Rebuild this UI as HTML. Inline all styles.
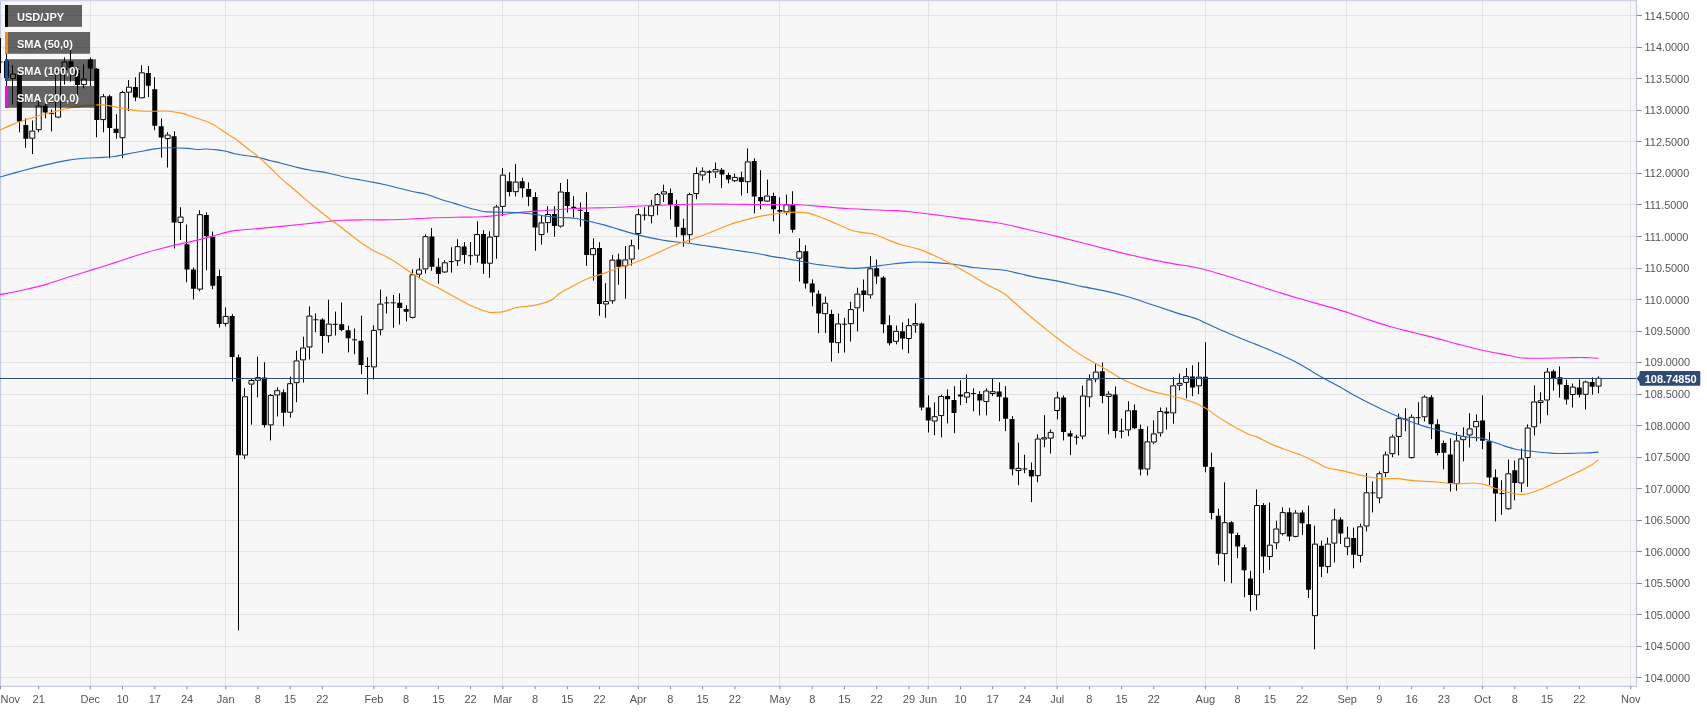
<!DOCTYPE html>
<html><head><meta charset="utf-8"><title>USD/JPY</title>
<style>html,body{margin:0;padding:0;background:#fff;overflow:hidden}body{width:1707px;height:712px;position:relative;font-family:"Liberation Sans",sans-serif}svg{position:absolute;left:0;top:0}text{font-family:"Liberation Sans",sans-serif}</style></head><body>
<svg style="will-change:transform" width="1707" height="712" viewBox="0 0 1707 712">
<rect x="0" y="0" width="1707" height="712" fill="#ffffff"/>
<rect x="0" y="0" width="1636.5" height="686.3" fill="#f7f7f7"/>
<path d="M0 15.5H1636.5M0 47.5H1636.5M0 78.5H1636.5M0 110.5H1636.5M0 141.5H1636.5M0 173.5H1636.5M0 204.5H1636.5M0 236.5H1636.5M0 268.5H1636.5M0 299.5H1636.5M0 331.5H1636.5M0 362.5H1636.5M0 394.5H1636.5M0 425.5H1636.5M0 457.5H1636.5M0 488.5H1636.5M0 520.5H1636.5M0 551.5H1636.5M0 583.5H1636.5M0 614.5H1636.5M0 646.5H1636.5M0 677.5H1636.5M90.5 0V686.3M225.5 0V686.3M373.5 0V686.3M502.5 0V686.3M638.5 0V686.3M779.5 0V686.3M928.5 0V686.3M1056.5 0V686.3M1205.5 0V686.3M1346.5 0V686.3M1482.5 0V686.3M1630.5 0V686.3" stroke="#e3e3e5" stroke-width="1" fill="none"/>
<path d="M0.5 0V686.3" stroke="#c3cbe2" stroke-width="1.2" fill="none"/>
<clipPath id="c"><rect x="0" y="0" width="1636.5" height="686.3"/></clipPath>
<g clip-path="url(#c)">
<path d="M0.50 38.0V73.0M-2.44 62.0H2.56M6.50 50.0V88.0M12.50 65.2V73.6M12.50 79.0V104.7M19.50 72.0V132.3M25.50 118.3V147.8M32.50 120.5V130.6M32.50 138.7V154.1M38.50 101.2V105.5M38.50 130.2V132.3M45.50 103.7V118.3M51.50 109.5V131.5M49.13 113.6H54.13M58.50 70.0V71.0M58.50 117.6V118.3M64.50 57.3V61.5M64.50 70.0V84.5M70.50 49.8V81.8M77.50 66.5V96.2M83.50 64.5V78.6M83.50 85.1V88.4M90.50 57.6V86.0M96.50 68.0V137.3M103.50 94.1V96.2M103.50 120.1V132.3M109.50 94.8V158.3M116.50 114.2V138.7M122.50 90.6V92.0M122.50 138.2V158.3M128.50 80.0V86.7M128.50 92.7V111.1M135.50 77.3V101.2M141.50 65.3V72.3M141.50 98.3V98.5M148.50 66.0V97.0M154.50 77.3V130.2M161.50 118.4V157.6M167.50 132.2V134.5M167.50 139.1V167.5M174.50 131.3V248.5M180.50 207.2V216.5M180.50 222.9V240.0M186.50 224.5V282.2M193.50 267.5V299.4M199.50 210.2V214.2M199.50 289.6V291.3M206.50 212.3V270.3M212.50 231.6V289.2M219.50 269.6V327.5M225.50 307.4V315.9M225.50 323.9V326.4M232.50 314.2V381.4M238.50 354.5V630.4M244.50 388.1V396.3M244.50 455.6V459.1M251.50 379.0V380.0M251.50 384.6V424.7M257.50 356.6V377.2M257.50 380.8V397.3M264.50 362.3V427.5M270.50 394.0V394.9M270.50 425.4V440.4M277.50 387.4V390.2M277.50 395.5V416.5M283.50 389.5V426.4M290.50 376.6V383.2M290.50 412.7V417.6M296.50 350.7V360.4M296.50 383.2V402.2M303.50 336.7V347.5M303.50 360.4V382.5M309.50 306.4V315.6M309.50 347.5V359.4M315.50 313.5V332.3M313.40 319.8H318.40M322.50 318.2V353.4M328.50 299.7V323.6M328.50 336.2V342.6M335.50 311.6V335.5M332.74 324.3H337.74M341.50 302.5V331.3M348.50 325.7V352.4M354.50 328.5V354.2M352.07 339.8H357.07M361.50 315.6V374.1M367.50 357.3V394.4M364.97 366.4H369.97M373.50 325.4V329.9M373.50 367.4V379.4M380.50 289.6V303.6M380.50 330.2V335.3M386.50 296.6V313.5M384.30 302.9H389.30M393.50 295.0V327.7M390.75 302.8H395.75M399.50 293.3V324.5M406.50 305.2V321.4M412.50 269.4V274.3M412.50 317.9V318.5M419.50 258.1V269.4M419.50 274.7V277.5M425.50 234.4V236.2M425.50 269.4V273.6M431.50 228.0V270.8M438.50 258.1V283.7M444.50 260.2V262.3M444.50 272.5V273.0M451.50 247.2V272.6M448.76 261.6H453.76M457.50 239.2V246.2M457.50 261.2V265.9M464.50 242.2V263.7M470.50 242.0V264.9M468.10 255.7H473.10M477.50 221.4V234.1M477.50 255.7V262.6M483.50 230.1V273.9M489.50 231.3V236.6M489.50 263.7V277.8M496.50 204.8V206.5M496.50 236.9V258.8M502.50 168.0V174.6M502.50 206.9V216.1M509.50 172.2V196.4M515.50 164.1V181.6M515.50 192.2V196.4M522.50 177.8V197.5M528.50 182.3V206.2M535.50 192.2V250.8M541.50 216.1V222.4M541.50 235.1V244.6M547.50 206.2V214.0M547.50 223.1V232.7M554.50 206.2V236.6M560.50 183.0V191.5M560.50 226.6V227.6M567.50 179.2V212.6M573.50 196.1V217.5M580.50 202.3V226.6M586.50 192.2V265.9M593.50 238.3V248.1M593.50 255.2V280.7M599.50 242.2V315.7M605.50 283.2V301.1M605.50 304.5V317.8M612.50 255.1V259.6M612.50 301.3V303.7M618.50 253.7V284.7M625.50 246.0V259.4M625.50 266.4V298.7M631.50 239.7V245.3M631.50 259.6V265.7M638.50 208.9V214.2M638.50 234.0V249.5M644.50 207.2V220.4M642.13 215.2H647.13M651.50 199.8V205.4M651.50 216.2V223.4M657.50 193.0V194.1M657.50 205.0V215.2M663.50 184.7V191.3M663.50 194.5V202.1M670.50 188.5V219.4M676.50 199.8V237.3M683.50 218.7V246.7M689.50 192.7V194.1M689.50 235.2V242.5M696.50 167.4V173.0M696.50 194.1V199.3M702.50 167.4V170.8M702.50 175.5V180.5M709.50 170.2V183.3M715.50 162.5V169.1M715.50 172.4V178.0M721.50 168.1V188.1M728.50 172.6V183.3M734.50 173.7V176.9M734.50 181.2V182.2M741.50 171.6V195.5M747.50 148.4V161.4M747.50 182.2V193.1M754.50 158.3V213.4M760.50 170.2V209.2M767.50 179.6V195.5M767.50 201.6V202.0M773.50 192.7V221.3M779.50 197.4V233.7M786.50 194.6V204.4M786.50 212.4V215.2M792.50 191.3V232.6M799.50 238.3V251.2M799.50 258.7V281.6M805.50 245.3V288.6M812.50 279.4V306.3M818.50 290.4V333.2M825.50 296.6V302.7M825.50 314.2V333.0M831.50 309.8V361.6M838.50 313.6V323.4M838.50 343.2V353.2M844.50 317.8V352.5M841.95 324.2H846.95M850.50 301.7V309.1M850.50 324.2V341.5M857.50 287.7V293.6M857.50 308.3V331.3M863.50 279.5V311.6M870.50 256.3V268.3M870.50 295.3V298.5M876.50 259.6V284.0M883.50 276.0V333.2M889.50 315.4V345.4M896.50 325.6V330.8M896.50 341.8V344.3M902.50 322.4V349.4M908.50 318.6V325.2M908.50 339.0V353.2M915.50 303.4V323.0M915.50 325.6V332.7M921.50 322.5V410.4M928.50 395.4V432.5M934.50 402.4V416.2M934.50 421.5V435.3M941.50 394.7V396.1M941.50 416.1V437.4M947.50 389.3V423.4M954.50 386.2V433.2M960.50 380.3V405.2M966.50 374.3V392.2M966.50 397.6V403.1M973.50 388.3V411.3M970.86 393.6H975.86M979.50 391.2V415.4M986.50 388.3V390.5M986.50 402.0V415.4M992.50 378.9V391.2M992.50 394.0V396.1M999.50 382.3V421.3M1005.50 386.2V431.1M1012.50 416.1V475.4M1018.50 442.6V467.9M1018.50 471.1V485.2M1024.50 454.7V473.3M1022.43 469.0H1027.43M1031.50 462.5V502.1M1037.50 434.3V438.5M1037.50 476.1V482.2M1044.50 415.2V437.3M1044.50 439.5V447.3M1050.50 429.5V431.9M1050.50 438.6V453.5M1057.50 391.7V397.4M1057.50 411.0V419.4M1063.50 395.5V440.4M1070.50 430.6V455.1M1076.50 434.8V444.6M1073.99 437.2H1078.99M1082.50 385.7V395.5M1082.50 436.6V439.4M1089.50 374.4V379.4M1089.50 397.4V407.2M1095.50 364.2V371.6M1095.50 379.4V382.2M1102.50 362.5V403.3M1108.50 391.3V393.7M1108.50 396.9V434.3M1115.50 386.4V438.2M1121.50 418.5V438.3M1119.11 431.2H1124.11M1128.50 401.2V410.3M1128.50 430.4V436.2M1134.50 404.4V429.2M1140.50 424.5V475.5M1147.50 426.4V441.4M1147.50 469.5V475.5M1153.50 420.4V433.4M1153.50 442.5V444.2M1160.50 407.5V411.0M1160.50 433.4V436.5M1166.50 407.5V429.6M1173.50 377.3V385.3M1173.50 413.4V423.7M1179.50 373.5V382.9M1179.50 385.7V390.3M1186.50 368.1V376.2M1186.50 382.9V398.3M1192.50 365.3V396.2M1198.50 362.2V376.6M1198.50 386.4V394.1M1205.50 342.1V472.3M1211.50 452.6V519.4M1218.50 508.6V565.2M1224.50 482.3V522.2M1224.50 554.2V581.4M1231.50 521.2V583.2M1237.50 532.7V558.0M1244.50 544.7V597.3M1250.50 570.8V611.3M1256.50 489.4V505.0M1256.50 595.4V609.9M1263.50 503.1V573.0M1269.50 502.5V544.7M1269.50 557.0V570.0M1276.50 520.8V528.5M1276.50 543.3V549.2M1282.50 507.4V512.1M1282.50 534.1V535.5M1289.50 507.8V541.2M1295.50 510.2V512.6M1295.50 536.9V537.3M1302.50 510.2V535.1M1308.50 505.6V598.0M1314.50 525.7V543.6M1314.50 616.2V649.3M1321.50 540.7V577.1M1327.50 537.6V543.6M1327.50 567.1V573.3M1334.50 508.8V519.4M1334.50 543.6V562.4M1340.50 517.3V544.0M1347.50 526.7V537.6M1347.50 547.2V555.2M1353.50 527.6V568.3M1360.50 523.7V526.3M1360.50 555.9V562.4M1366.50 473.0V492.3M1366.50 526.5V531.4M1372.50 481.4V512.4M1370.49 492.9H1375.49M1379.50 471.4V473.2M1379.50 498.4V503.3M1385.50 451.5V454.4M1385.50 473.1V477.2M1392.50 434.6V436.5M1392.50 454.2V457.2M1398.50 413.5V418.2M1398.50 436.9V455.4M1405.50 408.4V431.3M1402.72 419.1H1407.72M1411.50 414.4V416.8M1411.50 458.1V458.6M1418.50 402.2V424.3M1415.61 417.7H1420.61M1424.50 395.2V396.6M1424.50 417.3V421.5M1431.50 395.2V439.1M1437.50 419.4V455.3M1443.50 440.5V469.4M1450.50 438.3V491.5M1456.50 432.0V440.5M1456.50 484.0V490.8M1463.50 427.4V436.0M1463.50 440.2V461.4M1469.50 413.3V428.4M1469.50 435.5V447.5M1476.50 414.4V421.0M1476.50 427.3V441.2M1482.50 395.3V449.2M1489.50 432.2V485.1M1495.50 469.4V521.4M1501.50 480.2V514.7M1499.41 493.6H1504.41M1508.50 459.5V473.3M1508.50 509.3V509.8M1514.50 460.5V500.3M1521.50 448.6V458.4M1521.50 483.5V492.2M1527.50 424.3V427.5M1527.50 458.1V486.8M1534.50 385.4V401.5M1534.50 427.3V435.5M1540.50 392.3V400.3M1540.50 403.0V423.5M1547.50 368.1V371.6M1547.50 400.5V415.3M1553.50 369.5V390.6M1559.50 366.4V397.5M1566.50 379.6V404.5M1572.50 383.6V386.6M1572.50 395.0V407.6M1579.50 379.4V397.6M1585.50 380.5V381.5M1585.50 394.8V409.6M1592.50 377.3V394.6M1598.50 376.3V377.8M1598.50 386.6V393.4" stroke="#000" stroke-width="1" fill="none"/>
<path d="M4.01 61.0H9.01V78.0H4.01ZM16.90 74.4H21.90V121.6H16.90ZM23.34 125.0H28.34V138.7H23.34ZM42.68 105.8H47.68V112.4H42.68ZM68.46 61.3H73.46V67.5H68.46ZM74.91 70.2H79.91V85.0H74.91ZM87.80 59.4H92.80V68.4H87.80ZM94.25 68.7H99.25V120.1H94.25ZM107.14 96.2H112.14V128.0H107.14ZM113.58 128.7H118.58V133.0H113.58ZM132.92 87.1H137.92V97.6H132.92ZM145.81 73.0H150.81V85.7H145.81ZM152.26 89.2H157.26V125.8H152.26ZM158.70 126.2H163.70V137.6H158.70ZM171.59 136.3H176.59V222.5H171.59ZM184.49 244.3H189.49V269.6H184.49ZM190.93 269.6H195.93V288.8H190.93ZM203.82 215.1H208.82V236.3H203.82ZM210.27 236.8H215.27V285.8H210.27ZM216.71 276.0H221.71V323.9H216.71ZM229.61 316.1H234.61V357.0H229.61ZM236.05 357.3H241.05V455.3H236.05ZM261.83 377.6H266.83V425.0H261.83ZM281.17 392.3H286.17V412.7H281.17ZM319.85 319.4H324.85V336.0H319.85ZM339.18 324.3H344.18V329.9H339.18ZM345.63 330.3H350.63V338.3H345.63ZM358.52 340.7H363.52V365.0H358.52ZM397.19 302.8H402.19V308.0H397.19ZM403.64 309.0H408.64V311.8H403.64ZM429.42 236.4H434.42V266.8H429.42ZM435.87 266.8H440.87V273.9H435.87ZM461.65 246.6H466.65V255.0H461.65ZM480.99 234.1H485.99V263.7H480.99ZM506.77 181.2H511.77V191.9H506.77ZM519.66 181.2H524.66V188.2H519.66ZM526.11 189.1H531.11V196.7H526.11ZM532.55 197.1H537.55V227.6H532.55ZM551.89 214.0H556.89V225.9H551.89ZM564.78 191.9H569.78V206.0H564.78ZM571.23 206.8H576.23V208.6H571.23ZM577.67 209.8H582.67V210.8H577.67ZM584.12 211.9H589.12V255.0H584.12ZM597.01 248.1H602.01V304.1H597.01ZM616.35 259.6H621.35V266.7H616.35ZM667.91 193.1H672.91V205.0H667.91ZM674.36 205.8H679.36V226.8H674.36ZM680.80 227.8H685.80V235.2H680.80ZM706.59 171.3H711.59V172.7H706.59ZM719.48 169.8H724.48V174.4H719.48ZM725.92 175.1H730.92V179.6H725.92ZM738.82 177.3H743.82V181.9H738.82ZM751.71 161.1H756.71V196.5H751.71ZM758.15 196.9H763.15V201.2H758.15ZM771.04 196.0H776.04V209.2H771.04ZM777.49 210.0H782.49V211.7H777.49ZM790.38 204.7H795.38V229.8H790.38ZM803.27 251.2H808.27V283.6H803.27ZM809.72 283.5H814.72V292.5H809.72ZM816.16 293.8H821.16V313.4H816.16ZM829.06 314.0H834.06V342.7H829.06ZM861.28 290.5H866.28V295.0H861.28ZM874.18 268.3H879.18V276.4H874.18ZM880.62 277.4H885.62V324.2H880.62ZM887.07 325.2H892.07V343.2H887.07ZM899.96 331.3H904.96V338.4H899.96ZM919.30 323.4H924.30V407.6H919.30ZM925.74 407.6H930.74V420.6H925.74ZM945.08 396.1H950.08V399.2H945.08ZM951.52 400.0H956.52V413.0H951.52ZM957.97 394.4H962.97V396.4H957.97ZM977.31 394.0H982.31V400.6H977.31ZM996.64 391.6H1001.64V396.8H996.64ZM1003.09 397.5H1008.09V418.8H1003.09ZM1009.54 419.0H1014.54V469.3H1009.54ZM1028.87 470.0H1033.87V476.4H1028.87ZM1061.10 397.6H1066.10V432.0H1061.10ZM1067.55 433.2H1072.55V436.6H1067.55ZM1099.77 371.2H1104.77V396.0H1099.77ZM1112.67 394.6H1117.67V431.0H1112.67ZM1132.00 410.3H1137.00V428.2H1132.00ZM1138.45 429.0H1143.45V469.5H1138.45ZM1164.23 411.4H1169.23V413.4H1164.23ZM1190.01 376.6H1195.01V387.5H1190.01ZM1202.91 376.8H1207.91V466.7H1202.91ZM1209.35 467.1H1214.35V512.9H1209.35ZM1215.80 515.8H1220.80V553.8H1215.80ZM1228.69 522.2H1233.69V533.4H1228.69ZM1235.13 535.1H1240.13V546.4H1235.13ZM1241.58 547.2H1246.58V570.2H1241.58ZM1248.03 578.6H1253.03V595.1H1248.03ZM1260.92 505.0H1265.92V556.6H1260.92ZM1286.70 512.3H1291.70V536.5H1286.70ZM1299.59 512.6H1304.59V523.3H1299.59ZM1306.04 524.3H1311.04V589.8H1306.04ZM1318.93 545.8H1323.93V566.8H1318.93ZM1338.27 519.4H1343.27V533.4H1338.27ZM1351.16 537.9H1356.16V554.8H1351.16ZM1428.51 397.2H1433.51V424.3H1428.51ZM1434.95 424.3H1439.95V453.0H1434.95ZM1441.40 443.0H1446.40V452.7H1441.40ZM1447.84 454.5H1452.84V483.5H1447.84ZM1480.07 420.6H1485.07V440.7H1480.07ZM1486.52 441.2H1491.52V477.4H1486.52ZM1492.96 477.2H1497.96V493.6H1492.96ZM1512.30 470.2H1517.30V483.0H1512.30ZM1550.97 371.2H1555.97V378.2H1550.97ZM1557.42 377.3H1562.42V384.5H1557.42ZM1563.87 385.0H1568.87V399.6H1563.87ZM1576.76 387.5H1581.76V394.8H1576.76ZM1589.65 381.9H1594.65V386.7H1589.65Z" fill="#000" stroke="none"/>
<path d="M10.45 74.1H15.45V78.5H10.45ZM29.79 131.1H34.79V138.2H29.79ZM36.23 106.0H41.23V129.7H36.23ZM55.57 71.5H60.57V117.1H55.57ZM62.02 62.0H67.02V69.5H62.02ZM81.35 79.1H86.35V84.6H81.35ZM100.69 96.7H105.69V119.6H100.69ZM120.03 92.5H125.03V137.7H120.03ZM126.47 87.2H131.47V92.2H126.47ZM139.37 72.8H144.37V97.8H139.37ZM165.15 135.0H170.15V138.6H165.15ZM178.04 217.0H183.04V222.4H178.04ZM197.38 214.7H202.38V289.1H197.38ZM223.16 316.4H228.16V323.4H223.16ZM242.50 396.8H247.50V455.1H242.50ZM248.94 380.5H253.94V384.1H248.94ZM255.39 377.7H260.39V380.3H255.39ZM268.28 395.4H273.28V424.9H268.28ZM274.73 390.7H279.73V395.0H274.73ZM287.62 383.7H292.62V412.2H287.62ZM294.06 360.9H299.06V382.7H294.06ZM300.51 348.0H305.51V359.9H300.51ZM306.95 316.1H311.95V347.0H306.95ZM326.29 324.1H331.29V335.7H326.29ZM371.41 330.4H376.41V366.9H371.41ZM377.86 304.1H382.86V329.7H377.86ZM410.09 274.8H415.09V317.4H410.09ZM416.53 269.9H421.53V274.2H416.53ZM422.98 236.7H427.98V268.9H422.98ZM442.31 262.8H447.31V272.0H442.31ZM455.20 246.7H460.20V260.7H455.20ZM474.54 234.6H479.54V255.2H474.54ZM487.43 237.1H492.43V263.2H487.43ZM493.88 207.0H498.88V236.4H493.88ZM500.32 175.1H505.32V206.4H500.32ZM513.22 182.1H518.22V191.7H513.22ZM539.00 222.9H544.00V234.6H539.00ZM545.44 214.5H550.44V222.6H545.44ZM558.34 192.0H563.34V226.1H558.34ZM590.56 248.6H595.56V254.7H590.56ZM603.46 301.6H608.46V304.0H603.46ZM609.90 260.1H614.90V300.8H609.90ZM622.79 259.9H627.79V265.9H622.79ZM629.24 245.8H634.24V259.1H629.24ZM635.68 214.7H640.68V233.5H635.68ZM648.58 205.9H653.58V215.7H648.58ZM655.02 194.6H660.02V204.5H655.02ZM661.47 191.8H666.47V194.0H661.47ZM687.25 194.6H692.25V234.7H687.25ZM693.70 173.5H698.70V193.6H693.70ZM700.14 171.3H705.14V175.0H700.14ZM713.03 169.6H718.03V171.9H713.03ZM732.37 177.4H737.37V180.7H732.37ZM745.26 161.9H750.26V181.7H745.26ZM764.60 196.0H769.60V201.1H764.60ZM783.94 204.9H788.94V211.9H783.94ZM796.83 251.7H801.83V258.2H796.83ZM822.61 303.2H827.61V313.7H822.61ZM835.50 323.9H840.50V342.7H835.50ZM848.39 309.6H853.39V323.7H848.39ZM854.84 294.1H859.84V307.8H854.84ZM867.73 268.8H872.73V294.8H867.73ZM893.51 331.3H898.51V341.3H893.51ZM906.40 325.7H911.40V338.5H906.40ZM912.85 323.5H917.85V325.1H912.85ZM932.19 416.7H937.19V421.0H932.19ZM938.63 396.6H943.63V415.6H938.63ZM964.42 392.7H969.42V397.1H964.42ZM983.75 391.0H988.75V401.5H983.75ZM990.20 391.7H995.20V393.5H990.20ZM1015.98 468.4H1020.98V470.6H1015.98ZM1035.32 439.0H1040.32V475.6H1035.32ZM1041.76 437.8H1046.76V439.0H1041.76ZM1048.21 432.4H1053.21V438.1H1048.21ZM1054.65 397.9H1059.65V410.5H1054.65ZM1080.44 396.0H1085.44V436.1H1080.44ZM1086.88 379.9H1091.88V396.9H1086.88ZM1093.33 372.1H1098.33V378.9H1093.33ZM1106.22 394.2H1111.22V396.4H1106.22ZM1125.56 410.8H1130.56V429.9H1125.56ZM1144.89 441.9H1149.89V469.0H1144.89ZM1151.34 433.9H1156.34V442.0H1151.34ZM1157.79 411.5H1162.79V432.9H1157.79ZM1170.68 385.8H1175.68V412.9H1170.68ZM1177.12 383.4H1182.12V385.2H1177.12ZM1183.57 376.7H1188.57V382.4H1183.57ZM1196.46 377.1H1201.46V385.9H1196.46ZM1222.24 522.7H1227.24V553.7H1222.24ZM1254.47 505.5H1259.47V594.9H1254.47ZM1267.36 545.2H1272.36V556.5H1267.36ZM1273.81 529.0H1278.81V542.8H1273.81ZM1280.25 512.6H1285.25V533.6H1280.25ZM1293.15 513.1H1298.15V536.4H1293.15ZM1312.48 544.1H1317.48V615.7H1312.48ZM1325.37 544.1H1330.37V566.6H1325.37ZM1331.82 519.9H1336.82V543.1H1331.82ZM1344.71 538.1H1349.71V546.7H1344.71ZM1357.60 526.8H1362.60V555.4H1357.60ZM1364.05 492.8H1369.05V526.0H1364.05ZM1376.94 473.7H1381.94V497.9H1376.94ZM1383.39 454.9H1388.39V472.6H1383.39ZM1389.83 437.0H1394.83V453.7H1389.83ZM1396.28 418.7H1401.28V436.4H1396.28ZM1409.17 417.3H1414.17V457.6H1409.17ZM1422.06 397.1H1427.06V416.8H1422.06ZM1454.29 441.0H1459.29V483.5H1454.29ZM1460.73 436.5H1465.73V439.7H1460.73ZM1467.18 428.9H1472.18V435.0H1467.18ZM1473.63 421.5H1478.63V426.8H1473.63ZM1505.85 473.8H1510.85V508.8H1505.85ZM1518.75 458.9H1523.75V483.0H1518.75ZM1525.19 428.0H1530.19V457.6H1525.19ZM1531.64 402.0H1536.64V426.8H1531.64ZM1538.08 400.8H1543.08V402.5H1538.08ZM1544.53 372.1H1549.53V400.0H1544.53ZM1570.31 387.1H1575.31V394.5H1570.31ZM1583.20 382.0H1588.20V394.3H1583.20ZM1596.09 378.3H1601.09V386.1H1596.09Z" fill="#fff" stroke="#000" stroke-width="1"/>
<path d="M0.0 294.7 C3.9 293.9 15.6 291.8 23.4 290.0 C31.2 288.2 39.1 286.4 46.9 284.1 C54.7 281.9 62.5 278.9 70.3 276.5 C78.1 274.1 85.9 271.8 93.7 269.4 C101.5 267.0 109.4 264.4 117.2 261.9 C125.0 259.4 132.8 256.6 140.6 254.2 C148.4 251.8 156.2 249.7 164.0 247.7 C171.8 245.7 179.7 244.2 187.5 242.4 C195.3 240.6 203.9 238.4 211.0 236.6 C218.1 234.8 224.7 232.5 230.0 231.4 C235.3 230.3 238.4 230.3 243.0 229.8 C247.6 229.3 251.4 229.2 257.8 228.6 C264.2 228.0 273.4 227.2 281.2 226.4 C289.0 225.6 296.8 224.8 304.6 224.0 C312.4 223.2 322.1 222.1 328.0 221.5 C333.9 220.9 334.2 220.6 340.0 220.3 C345.8 220.0 354.7 219.9 363.0 219.8 C371.3 219.7 381.8 219.9 390.0 219.8 C398.2 219.7 406.0 219.3 412.0 219.0 C418.0 218.7 419.1 218.5 426.2 218.2 C433.3 217.9 445.0 217.4 454.4 217.2 C463.8 217.0 475.5 217.1 482.5 216.8 C489.5 216.5 490.6 216.1 496.5 215.4 C502.4 214.7 509.4 213.4 517.6 212.6 C525.8 211.8 536.4 211.2 545.8 210.5 C555.2 209.8 566.5 208.9 573.9 208.5 C581.3 208.1 582.6 208.2 590.0 208.0 C597.4 207.8 608.7 207.7 618.1 207.3 C627.5 206.9 636.8 206.1 646.2 205.7 C655.6 205.3 665.0 205.0 674.4 204.7 C683.8 204.4 693.1 204.1 702.5 204.0 C711.9 203.9 721.2 204.1 730.6 204.2 C740.0 204.3 749.3 204.5 758.7 204.6 C768.1 204.7 779.8 204.7 786.8 204.7 C793.8 204.7 794.8 204.5 800.9 204.8 C807.0 205.1 815.7 206.0 823.4 206.6 C831.1 207.2 839.1 208.0 846.9 208.5 C854.7 209.0 862.5 209.3 870.3 209.7 C878.1 210.0 886.7 210.2 893.7 210.6 C900.7 211.0 904.7 211.2 912.5 212.0 C920.3 212.8 932.0 214.4 940.6 215.5 C949.2 216.6 956.2 217.6 964.0 218.6 C971.8 219.6 980.9 220.7 987.5 221.6 C994.1 222.5 996.1 222.4 1003.9 224.0 C1011.7 225.6 1025.3 228.9 1034.3 231.0 C1043.3 233.1 1050.0 234.7 1057.8 236.6 C1065.6 238.5 1073.4 240.5 1081.2 242.5 C1089.0 244.5 1096.8 246.6 1104.6 248.6 C1112.4 250.6 1120.2 252.6 1128.0 254.4 C1135.8 256.2 1143.7 258.0 1151.5 259.6 C1159.3 261.2 1168.6 263.0 1175.0 264.1 C1181.4 265.2 1185.3 265.5 1190.0 266.4 C1194.7 267.2 1197.2 267.6 1203.4 269.2 C1209.6 270.8 1219.1 273.6 1226.9 276.0 C1234.7 278.4 1242.5 280.8 1250.3 283.3 C1258.1 285.8 1265.9 288.4 1273.7 290.8 C1281.5 293.2 1289.4 295.7 1297.2 298.0 C1305.0 300.3 1312.8 302.4 1320.6 304.6 C1328.4 306.8 1336.2 308.9 1344.0 311.4 C1351.8 313.9 1359.7 316.8 1367.5 319.4 C1375.3 322.0 1383.2 324.6 1391.0 326.8 C1398.8 329.0 1406.5 330.7 1414.3 332.7 C1422.1 334.7 1430.0 336.6 1437.8 338.6 C1445.6 340.7 1453.4 343.0 1461.2 345.0 C1469.0 347.0 1476.8 349.0 1484.6 350.7 C1492.4 352.4 1502.1 354.0 1508.0 355.2 C1513.9 356.4 1516.1 357.2 1519.8 357.7 C1523.5 358.2 1526.1 358.1 1530.0 358.2 C1533.9 358.3 1537.1 358.3 1543.2 358.2 C1549.3 358.1 1560.5 357.8 1566.6 357.7 C1572.7 357.6 1576.1 357.5 1580.0 357.5 C1583.9 357.5 1586.9 357.7 1590.0 357.8 C1593.1 357.9 1597.1 358.2 1598.5 358.3" stroke="#ff22ee" stroke-width="1.15" fill="none" stroke-linejoin="round"/>
<path d="M0.0 177.0 C3.9 175.9 15.6 172.6 23.4 170.5 C31.2 168.4 39.9 166.2 46.9 164.6 C53.9 162.9 59.3 161.6 65.6 160.6 C71.8 159.6 78.9 158.8 84.4 158.3 C89.9 157.8 93.7 157.8 98.4 157.6 C103.1 157.3 107.8 157.4 112.5 156.8 C117.2 156.2 121.8 155.0 126.5 154.1 C131.2 153.2 135.9 152.4 140.6 151.5 C145.3 150.6 150.0 149.5 154.7 148.9 C159.4 148.3 163.2 147.9 168.7 147.8 C174.2 147.7 182.8 148.1 187.5 148.4 C192.2 148.7 193.9 149.4 197.0 149.5 C200.1 149.6 203.0 149.0 206.0 149.0 C209.0 149.0 211.8 149.3 215.0 149.6 C218.2 149.9 221.8 150.3 225.0 151.0 C228.2 151.7 231.3 153.0 234.4 153.7 C237.5 154.4 239.8 154.7 243.7 155.3 C247.6 155.9 253.4 156.4 257.8 157.3 C262.2 158.2 266.1 159.5 270.0 160.5 C273.9 161.5 276.7 162.0 281.2 163.2 C285.7 164.3 291.9 166.2 297.0 167.4 C302.1 168.6 306.8 169.6 312.0 170.5 C317.2 171.4 322.2 171.8 328.0 173.0 C333.8 174.2 341.4 176.3 346.9 177.5 C352.4 178.7 356.3 179.2 361.0 180.0 C365.7 180.8 371.2 181.8 375.0 182.6 C378.8 183.3 380.1 183.6 384.0 184.5 C387.9 185.4 393.4 186.8 398.1 188.0 C402.8 189.2 407.5 190.4 412.2 191.5 C416.9 192.6 421.5 193.0 426.2 194.3 C430.9 195.6 435.6 197.7 440.3 199.2 C445.0 200.7 449.7 202.0 454.4 203.4 C459.1 204.8 463.7 206.4 468.4 207.7 C473.1 209.0 479.0 210.5 482.5 211.2 C486.0 211.9 486.0 211.7 489.5 211.9 C493.0 212.1 498.9 212.1 503.6 212.2 C508.3 212.3 512.9 212.3 517.6 212.6 C522.3 212.9 527.0 213.4 531.7 214.0 C536.4 214.6 541.1 215.5 545.8 216.1 C550.5 216.7 555.1 217.2 559.8 217.5 C564.5 217.8 569.2 217.6 573.9 218.2 C578.6 218.8 583.0 219.9 588.0 221.0 C593.0 222.1 599.0 223.6 604.0 224.9 C609.0 226.2 613.4 227.7 618.1 229.1 C622.8 230.5 627.5 232.1 632.2 233.4 C636.9 234.7 641.5 235.9 646.2 236.9 C650.9 237.9 655.6 238.9 660.3 239.7 C665.0 240.5 669.7 241.2 674.4 241.8 C679.1 242.4 683.7 242.6 688.4 243.2 C693.1 243.8 697.8 244.6 702.5 245.3 C707.2 246.0 711.8 246.7 716.5 247.4 C721.2 248.1 725.9 248.8 730.6 249.5 C735.3 250.2 740.0 250.9 744.7 251.6 C749.4 252.3 754.0 252.9 758.7 253.7 C763.4 254.5 768.1 255.8 772.8 256.6 C777.5 257.4 782.1 257.9 786.8 258.7 C791.5 259.5 796.4 260.3 800.9 261.2 C805.4 262.1 810.1 263.3 814.0 264.0 C817.9 264.7 820.1 264.8 824.0 265.3 C827.9 265.8 832.9 266.5 837.5 267.0 C842.1 267.5 846.7 268.2 851.5 268.3 C856.3 268.4 861.4 268.1 866.2 267.6 C871.0 267.2 875.6 266.2 880.3 265.6 C885.0 265.0 889.7 264.3 894.4 263.8 C899.1 263.3 904.6 262.7 908.4 262.4 C912.2 262.1 913.4 262.0 917.2 262.0 C921.0 262.0 925.7 262.1 931.2 262.4 C936.7 262.7 944.9 263.3 950.0 263.8 C955.1 264.3 958.1 265.0 962.0 265.6 C965.9 266.2 969.2 267.0 973.4 267.5 C977.6 268.0 981.9 268.3 987.0 268.8 C992.1 269.3 998.4 269.5 1003.9 270.3 C1009.4 271.1 1015.2 272.7 1020.3 273.8 C1025.4 274.9 1028.0 275.9 1034.3 277.1 C1040.5 278.3 1050.0 279.6 1057.8 281.1 C1065.6 282.7 1073.4 284.8 1081.2 286.4 C1089.0 288.0 1096.8 289.2 1104.6 290.9 C1112.4 292.6 1120.2 294.5 1128.0 296.8 C1135.8 299.1 1143.7 301.9 1151.5 304.5 C1159.3 307.1 1168.6 310.3 1175.0 312.4 C1181.4 314.4 1186.0 315.6 1190.0 316.8 C1194.0 318.0 1194.1 317.9 1198.7 319.8 C1203.3 321.8 1210.5 325.4 1217.5 328.5 C1224.5 331.6 1234.6 335.9 1241.0 338.5 C1247.4 341.1 1250.5 342.2 1256.0 344.4 C1261.5 346.6 1266.8 348.6 1273.7 351.7 C1280.6 354.8 1289.4 358.6 1297.2 362.7 C1305.0 366.8 1313.5 372.4 1320.6 376.5 C1327.7 380.6 1334.4 383.9 1340.0 387.0 C1345.6 390.1 1349.3 392.7 1354.0 395.3 C1358.7 397.9 1363.4 400.2 1368.1 402.6 C1372.8 405.0 1377.5 407.3 1382.2 409.5 C1386.9 411.7 1391.5 413.7 1396.2 415.7 C1400.9 417.7 1405.6 419.7 1410.3 421.5 C1415.0 423.3 1419.7 424.9 1424.4 426.4 C1429.1 427.8 1433.7 428.9 1438.4 430.2 C1443.1 431.4 1447.8 432.8 1452.5 433.9 C1457.2 435.0 1461.9 436.4 1466.5 437.0 C1471.1 437.6 1475.9 437.1 1480.0 437.8 C1484.1 438.5 1487.5 440.1 1491.2 441.3 C1495.0 442.6 1498.8 444.1 1502.5 445.3 C1506.2 446.5 1510.0 447.8 1513.7 448.7 C1517.5 449.6 1521.3 450.1 1525.0 450.6 C1528.7 451.1 1532.3 451.3 1536.0 451.7 C1539.7 452.1 1543.6 452.5 1547.4 452.8 C1551.2 453.1 1554.8 453.4 1558.6 453.5 C1562.4 453.6 1566.3 453.5 1570.0 453.4 C1573.7 453.3 1577.3 453.1 1581.0 453.0 C1584.7 452.9 1589.5 452.8 1592.4 452.6 C1595.3 452.5 1597.5 452.2 1598.5 452.1" stroke="#2a6ab8" stroke-width="1.15" fill="none" stroke-linejoin="round"/>
<path d="M0.0 130.2 C2.3 129.1 9.3 125.8 14.0 123.9 C18.7 122.0 23.4 120.5 28.1 119.0 C32.8 117.5 37.5 116.1 42.2 114.8 C46.9 113.5 51.5 112.4 56.2 111.2 C60.9 110.0 65.6 108.6 70.3 107.7 C75.0 106.8 79.7 106.4 84.4 105.9 C89.1 105.4 95.1 105.1 98.4 104.9 C101.7 104.7 101.7 104.7 104.0 104.9 C106.3 105.1 108.8 105.6 112.5 106.3 C116.2 107.0 121.8 108.3 126.5 109.1 C131.2 109.9 135.9 110.7 140.6 111.0 C145.3 111.3 150.0 111.2 154.7 111.2 C159.4 111.2 164.0 110.8 168.7 111.2 C173.4 111.6 178.1 112.2 182.8 113.4 C187.5 114.6 192.1 116.7 196.8 118.3 C201.5 119.9 206.2 120.9 210.9 123.2 C215.6 125.5 220.7 129.5 225.0 132.3 C229.3 135.1 233.3 137.4 237.0 140.0 C240.7 142.6 243.5 145.3 247.0 148.0 C250.5 150.7 254.0 153.2 257.8 156.4 C261.6 159.7 266.1 163.8 270.0 167.5 C273.9 171.2 277.4 175.1 281.2 178.6 C285.0 182.1 289.1 185.2 293.0 188.5 C296.9 191.8 300.8 195.3 304.6 198.6 C308.4 201.8 312.1 204.8 316.0 208.0 C319.9 211.2 324.0 214.4 328.0 217.5 C332.0 220.6 336.1 223.5 340.0 226.5 C343.9 229.5 347.7 232.6 351.5 235.5 C355.3 238.4 359.1 241.3 363.0 244.0 C366.9 246.7 371.5 249.6 375.0 251.5 C378.5 253.4 380.1 253.5 384.0 255.5 C387.9 257.5 393.4 260.7 398.1 263.7 C402.8 266.7 407.5 270.4 412.2 273.5 C416.9 276.6 421.5 279.4 426.2 282.0 C430.9 284.6 435.6 286.5 440.3 289.0 C445.0 291.5 449.7 294.2 454.4 296.8 C459.1 299.4 463.7 302.3 468.4 304.5 C473.1 306.7 479.0 308.9 482.5 310.2 C486.0 311.5 487.2 312.0 489.5 312.4 C491.8 312.8 494.1 312.4 496.5 312.3 C498.9 312.2 500.1 312.4 503.6 311.6 C507.1 310.8 512.9 308.2 517.6 307.3 C522.3 306.4 527.0 306.7 531.7 305.9 C536.4 305.1 542.3 303.5 545.8 302.4 C549.3 301.3 550.5 300.8 552.8 299.3 C555.1 297.8 556.3 295.6 559.8 293.3 C563.3 291.0 569.2 288.0 573.9 285.5 C578.6 283.0 583.0 280.5 588.0 278.5 C593.0 276.5 599.0 275.2 604.0 273.4 C609.0 271.6 613.4 269.4 618.1 267.8 C622.8 266.2 627.5 265.2 632.2 263.6 C636.9 262.0 641.5 260.0 646.2 258.0 C650.9 256.0 655.6 253.7 660.3 251.6 C665.0 249.5 669.7 247.2 674.4 245.3 C679.1 243.4 683.7 242.0 688.4 240.4 C693.1 238.8 697.8 237.2 702.5 235.5 C707.2 233.8 711.8 231.9 716.5 230.0 C721.2 228.1 725.9 226.0 730.6 224.3 C735.3 222.7 740.0 221.4 744.7 220.1 C749.4 218.8 754.0 217.6 758.7 216.6 C763.4 215.6 768.1 214.8 772.8 214.1 C777.5 213.4 782.8 213.0 786.8 212.7 C790.8 212.4 793.5 212.0 797.0 212.1 C800.5 212.2 805.0 212.6 808.0 213.1 C811.0 213.6 812.4 214.3 815.0 215.2 C817.6 216.1 819.6 216.8 823.4 218.3 C827.1 219.8 832.8 222.2 837.5 224.2 C842.2 226.2 847.2 228.9 851.5 230.3 C855.8 231.7 859.1 231.9 863.0 232.6 C866.9 233.3 870.7 233.2 875.0 234.5 C879.3 235.8 884.3 238.6 889.0 240.4 C893.7 242.2 898.3 243.8 903.0 245.2 C907.7 246.6 913.3 247.4 917.2 248.6 C921.1 249.8 922.6 250.4 926.5 252.1 C930.4 253.8 935.9 256.3 940.6 258.6 C945.3 260.9 949.5 263.0 954.7 265.8 C959.9 268.6 966.5 272.5 971.7 275.5 C976.9 278.5 981.1 281.4 985.8 284.0 C990.5 286.6 996.4 289.2 999.8 291.0 C1003.2 292.8 1003.6 293.2 1006.0 295.0 C1008.4 296.8 1010.2 298.8 1013.9 302.0 C1017.6 305.2 1023.3 310.5 1028.0 314.5 C1032.7 318.5 1037.0 322.0 1042.0 326.0 C1047.0 330.0 1052.8 334.6 1057.8 338.5 C1062.8 342.4 1067.5 345.8 1072.2 349.1 C1076.9 352.4 1081.5 355.5 1086.2 358.3 C1090.9 361.1 1095.6 363.3 1100.3 366.0 C1105.0 368.7 1110.9 372.4 1114.4 374.5 C1117.9 376.6 1117.9 376.9 1121.4 378.7 C1124.9 380.4 1130.8 383.0 1135.5 385.0 C1140.2 387.0 1144.8 389.1 1149.5 390.6 C1154.2 392.1 1158.9 393.0 1163.6 394.1 C1168.3 395.2 1172.9 396.0 1177.6 397.3 C1182.3 398.6 1188.0 400.5 1191.7 401.8 C1195.4 403.1 1197.5 404.1 1200.0 405.3 C1202.5 406.5 1204.7 407.5 1207.0 409.0 C1209.3 410.5 1210.5 411.7 1214.0 414.1 C1217.5 416.5 1224.1 420.8 1228.1 423.2 C1232.1 425.6 1234.5 426.9 1238.0 428.8 C1241.5 430.7 1246.2 433.2 1249.2 434.5 C1252.2 435.8 1252.7 435.1 1256.2 436.6 C1259.7 438.1 1265.6 441.5 1270.3 443.6 C1275.0 445.7 1279.7 447.4 1284.4 449.2 C1289.1 450.9 1294.9 452.8 1298.4 454.1 C1301.9 455.4 1302.0 455.4 1305.5 457.0 C1309.0 458.6 1315.9 462.2 1319.5 464.0 C1323.1 465.8 1323.7 466.7 1327.2 467.8 C1330.7 468.9 1336.0 469.4 1340.6 470.4 C1345.2 471.4 1350.0 472.7 1354.7 473.8 C1359.4 474.9 1364.0 476.2 1368.7 477.0 C1373.4 477.8 1378.1 478.4 1382.8 478.7 C1387.5 479.0 1392.1 478.3 1396.8 478.6 C1401.5 478.9 1406.3 479.9 1411.0 480.4 C1415.7 480.9 1420.4 481.1 1425.0 481.4 C1429.6 481.7 1433.8 481.8 1438.4 482.2 C1443.0 482.6 1449.0 483.3 1452.5 483.6 C1456.0 483.9 1456.0 484.0 1459.5 483.9 C1463.0 483.8 1469.4 482.9 1473.6 483.0 C1477.8 483.1 1481.9 484.0 1484.8 484.6 C1487.7 485.2 1488.2 485.9 1491.2 486.9 C1494.2 487.9 1498.8 489.5 1502.5 490.6 C1506.2 491.7 1510.5 493.1 1513.7 493.7 C1516.9 494.3 1519.3 494.5 1521.6 494.5 C1523.8 494.5 1524.8 494.4 1527.2 493.8 C1529.6 493.2 1532.6 492.2 1536.0 491.0 C1539.4 489.8 1543.6 488.0 1547.4 486.4 C1551.2 484.8 1554.8 483.1 1558.6 481.3 C1562.4 479.5 1566.3 477.6 1570.0 475.8 C1573.7 474.0 1577.3 472.4 1581.0 470.5 C1584.7 468.6 1589.5 466.2 1592.4 464.4 C1595.3 462.6 1597.5 460.4 1598.5 459.6" stroke="#ff9a1f" stroke-width="1.15" fill="none" stroke-linejoin="round"/>
</g>
<path d="M0 378.5H1636.5" stroke="#2f4a73" stroke-width="1"/>
<path d="M0 0.5H1636.5" stroke="#cdd3e6" stroke-width="1.4" fill="none"/>
<path d="M1636.5 0V686.3H0" stroke="#c3cbe2" stroke-width="1.2" fill="none"/>
<text x="1644.6" y="19.7" font-size="10.9" fill="#555">114.5000</text>
<text x="1644.6" y="50.9" font-size="10.9" fill="#555">114.0000</text>
<text x="1644.6" y="82.7" font-size="10.9" fill="#555">113.5000</text>
<text x="1644.6" y="113.9" font-size="10.9" fill="#555">113.0000</text>
<text x="1644.6" y="145.7" font-size="10.9" fill="#555">112.5000</text>
<text x="1644.6" y="176.9" font-size="10.9" fill="#555">112.0000</text>
<text x="1644.6" y="208.7" font-size="10.9" fill="#555">111.5000</text>
<text x="1644.6" y="240.7" font-size="10.9" fill="#555">111.0000</text>
<text x="1644.6" y="271.9" font-size="10.9" fill="#555">110.5000</text>
<text x="1644.6" y="303.7" font-size="10.9" fill="#555">110.0000</text>
<text x="1644.6" y="334.9" font-size="10.9" fill="#555">109.5000</text>
<text x="1644.6" y="365.9" font-size="10.9" fill="#555">109.0000</text>
<text x="1644.6" y="397.9" font-size="10.9" fill="#555">108.5000</text>
<text x="1644.6" y="429.7" font-size="10.9" fill="#555">108.0000</text>
<text x="1644.6" y="460.9" font-size="10.9" fill="#555">107.5000</text>
<text x="1644.6" y="492.7" font-size="10.9" fill="#555">107.0000</text>
<text x="1644.6" y="523.9" font-size="10.9" fill="#555">106.5000</text>
<text x="1644.6" y="555.7" font-size="10.9" fill="#555">106.0000</text>
<text x="1644.6" y="586.9" font-size="10.9" fill="#555">105.5000</text>
<text x="1644.6" y="618.7" font-size="10.9" fill="#555">105.0000</text>
<text x="1644.6" y="649.9" font-size="10.9" fill="#555">104.5000</text>
<text x="1644.6" y="681.7" font-size="10.9" fill="#555">104.0000</text>
<path d="M1636.5 15.5h5.4M1636.5 47.5h5.4M1636.5 78.5h5.4M1636.5 110.5h5.4M1636.5 141.5h5.4M1636.5 173.5h5.4M1636.5 204.5h5.4M1636.5 236.5h5.4M1636.5 268.5h5.4M1636.5 299.5h5.4M1636.5 331.5h5.4M1636.5 362.5h5.4M1636.5 394.5h5.4M1636.5 425.5h5.4M1636.5 457.5h5.4M1636.5 488.5h5.4M1636.5 520.5h5.4M1636.5 551.5h5.4M1636.5 583.5h5.4M1636.5 614.5h5.4M1636.5 646.5h5.4M1636.5 677.5h5.4" stroke="#8a8a8a" stroke-width="1"/>
<text x="0.5" y="703" font-size="11" fill="#555">Nov</text>
<text x="38.7" y="703" font-size="11" fill="#555" text-anchor="middle">21</text>
<text x="90.3" y="703" font-size="11" fill="#555" text-anchor="middle">Dec</text>
<text x="122.5" y="703" font-size="11" fill="#555" text-anchor="middle">10</text>
<text x="154.8" y="703" font-size="11" fill="#555" text-anchor="middle">17</text>
<text x="187.0" y="703" font-size="11" fill="#555" text-anchor="middle">24</text>
<text x="225.7" y="703" font-size="11" fill="#555" text-anchor="middle">Jan</text>
<text x="257.9" y="703" font-size="11" fill="#555" text-anchor="middle">8</text>
<text x="290.1" y="703" font-size="11" fill="#555" text-anchor="middle">15</text>
<text x="322.3" y="703" font-size="11" fill="#555" text-anchor="middle">22</text>
<text x="373.9" y="703" font-size="11" fill="#555" text-anchor="middle">Feb</text>
<text x="406.1" y="703" font-size="11" fill="#555" text-anchor="middle">8</text>
<text x="438.4" y="703" font-size="11" fill="#555" text-anchor="middle">15</text>
<text x="470.6" y="703" font-size="11" fill="#555" text-anchor="middle">22</text>
<text x="502.8" y="703" font-size="11" fill="#555" text-anchor="middle">Mar</text>
<text x="535.1" y="703" font-size="11" fill="#555" text-anchor="middle">8</text>
<text x="567.3" y="703" font-size="11" fill="#555" text-anchor="middle">15</text>
<text x="599.5" y="703" font-size="11" fill="#555" text-anchor="middle">22</text>
<text x="638.2" y="703" font-size="11" fill="#555" text-anchor="middle">Apr</text>
<text x="670.4" y="703" font-size="11" fill="#555" text-anchor="middle">8</text>
<text x="702.6" y="703" font-size="11" fill="#555" text-anchor="middle">15</text>
<text x="734.9" y="703" font-size="11" fill="#555" text-anchor="middle">22</text>
<text x="780.0" y="703" font-size="11" fill="#555" text-anchor="middle">May</text>
<text x="812.2" y="703" font-size="11" fill="#555" text-anchor="middle">8</text>
<text x="844.4" y="703" font-size="11" fill="#555" text-anchor="middle">15</text>
<text x="876.7" y="703" font-size="11" fill="#555" text-anchor="middle">22</text>
<text x="908.9" y="703" font-size="11" fill="#555" text-anchor="middle">29</text>
<text x="928.2" y="703" font-size="11" fill="#555" text-anchor="middle">Jun</text>
<text x="960.5" y="703" font-size="11" fill="#555" text-anchor="middle">10</text>
<text x="992.7" y="703" font-size="11" fill="#555" text-anchor="middle">17</text>
<text x="1024.9" y="703" font-size="11" fill="#555" text-anchor="middle">24</text>
<text x="1057.2" y="703" font-size="11" fill="#555" text-anchor="middle">Jul</text>
<text x="1089.4" y="703" font-size="11" fill="#555" text-anchor="middle">8</text>
<text x="1121.6" y="703" font-size="11" fill="#555" text-anchor="middle">15</text>
<text x="1153.8" y="703" font-size="11" fill="#555" text-anchor="middle">22</text>
<text x="1205.4" y="703" font-size="11" fill="#555" text-anchor="middle">Aug</text>
<text x="1237.6" y="703" font-size="11" fill="#555" text-anchor="middle">8</text>
<text x="1269.9" y="703" font-size="11" fill="#555" text-anchor="middle">15</text>
<text x="1302.1" y="703" font-size="11" fill="#555" text-anchor="middle">22</text>
<text x="1347.2" y="703" font-size="11" fill="#555" text-anchor="middle">Sep</text>
<text x="1379.4" y="703" font-size="11" fill="#555" text-anchor="middle">9</text>
<text x="1411.7" y="703" font-size="11" fill="#555" text-anchor="middle">16</text>
<text x="1443.9" y="703" font-size="11" fill="#555" text-anchor="middle">23</text>
<text x="1482.6" y="703" font-size="11" fill="#555" text-anchor="middle">Oct</text>
<text x="1514.8" y="703" font-size="11" fill="#555" text-anchor="middle">8</text>
<text x="1547.0" y="703" font-size="11" fill="#555" text-anchor="middle">15</text>
<text x="1579.3" y="703" font-size="11" fill="#555" text-anchor="middle">22</text>
<text x="1630.8" y="703" font-size="11" fill="#555" text-anchor="middle">Nov</text>
<path d="M0.5 686.3v3M38.7 686.3v3M90.3 686.3v3M122.5 686.3v3M154.8 686.3v3M187.0 686.3v3M225.7 686.3v3M257.9 686.3v3M290.1 686.3v3M322.3 686.3v3M373.9 686.3v3M406.1 686.3v3M438.4 686.3v3M470.6 686.3v3M502.8 686.3v3M535.1 686.3v3M567.3 686.3v3M599.5 686.3v3M638.2 686.3v3M670.4 686.3v3M702.6 686.3v3M734.9 686.3v3M780.0 686.3v3M812.2 686.3v3M844.4 686.3v3M876.7 686.3v3M908.9 686.3v3M928.2 686.3v3M960.5 686.3v3M992.7 686.3v3M1024.9 686.3v3M1057.2 686.3v3M1089.4 686.3v3M1121.6 686.3v3M1153.8 686.3v3M1205.4 686.3v3M1237.6 686.3v3M1269.9 686.3v3M1302.1 686.3v3M1347.2 686.3v3M1379.4 686.3v3M1411.7 686.3v3M1443.9 686.3v3M1482.6 686.3v3M1514.8 686.3v3M1547.0 686.3v3M1579.3 686.3v3M1630.8 686.3v3" stroke="#8a8a8a" stroke-width="1"/>
<rect x="1639.6" y="371.1" width="60.7" height="14.7" rx="1" fill="#2f4a73"/><path d="M1640 374.3L1636.6 378.5L1640 382.7Z" fill="#2f4a73"/>
<text x="1644.7" y="382.7" font-size="11" font-weight="bold" fill="#fff">108.74850</text>
<rect x="5" y="5.0" width="77.0" height="21.8" fill="rgba(0,0,0,0.6)"/>
<rect x="5" y="5.0" width="3" height="21.8" fill="#000000"/>
<text x="17" y="21.6" font-size="11" font-weight="bold" fill="#000" opacity="0.35">USD/JPY</text>
<text x="17" y="20.9" font-size="11" font-weight="bold" fill="#fff">USD/JPY</text>
<rect x="5" y="32.0" width="85.0" height="21.8" fill="rgba(0,0,0,0.6)"/>
<rect x="5" y="32.0" width="3" height="21.8" fill="#ff8c00"/>
<text x="17" y="48.6" font-size="11" font-weight="bold" fill="#000" opacity="0.35">SMA (50,0)</text>
<text x="17" y="47.9" font-size="11" font-weight="bold" fill="#fff">SMA (50,0)</text>
<rect x="5" y="59.2" width="91.0" height="21.8" fill="rgba(0,0,0,0.6)"/>
<rect x="5" y="59.2" width="3" height="21.8" fill="#0d4fb5"/>
<text x="17" y="75.8" font-size="11" font-weight="bold" fill="#000" opacity="0.35">SMA (100,0)</text>
<text x="17" y="75.1" font-size="11" font-weight="bold" fill="#fff">SMA (100,0)</text>
<rect x="5" y="86.0" width="91.0" height="21.8" fill="rgba(0,0,0,0.6)"/>
<rect x="5" y="86.0" width="3" height="21.8" fill="#ff00ff"/>
<text x="17" y="102.6" font-size="11" font-weight="bold" fill="#000" opacity="0.35">SMA (200,0)</text>
<text x="17" y="101.9" font-size="11" font-weight="bold" fill="#fff">SMA (200,0)</text>
</svg></body></html>
